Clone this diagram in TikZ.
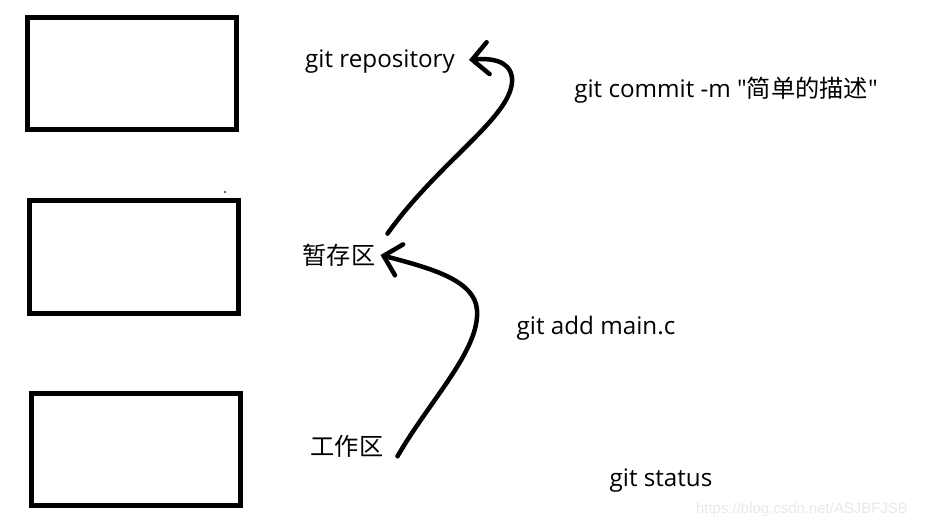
\documentclass[tikz,border=0pt]{standalone}
\usepackage{fontspec}
\setmainfont{Open Sans}[Ligatures=TeXOff]
\newfontfamily\cjk{Noto Sans CJK SC}
\newfontfamily\wmfont{Liberation Sans}
\usetikzlibrary{arrows.meta,positioning}

\begin{document}
\begin{tikzpicture}[x=1bp, y=-1bp,
    regionbox/.style={draw, line width=5bp, minimum width=209bp, minimum height=112bp},
    lbl/.style={font=\fontsize{24.3}{28}\selectfont, inner sep=0pt},
    handarrow/.style={line width=4.5bp, line cap=round,
        -{Straight Barb[length=16bp, width=32bp, line cap=round]}}]
    \useasboundingbox (0,0) rectangle (925,527);

    % The three regions
    \foreach \i/\x/\y in {1/132/73.5, 2/134/257, 3/136/449.5} {
        \node[regionbox] (box\i) at (\x,\y) {};
    }
    \fill (225,192) circle (1bp);

    % Region names
    \node[lbl] (repo) at (380,62) {git repository};
    \node[lbl] (stage) at (339,255) {\cjk 暂存区};
    \node[lbl] (work) at (347,446) {\cjk 工作区};

    % Commands
    \node[lbl] (commit) at (726,90) {git commit -m "{\cjk 简单的描述}"};
    \node[lbl] (add) at (596,328) {git add main.c};
    \node[lbl] (status) at (661,481) {git status};

    % Arrows between regions
    \draw[handarrow] ([xshift=12bp, yshift=10bp]stage.north east)
        .. controls (440,160) and (515,115) .. (512,78)
        .. controls (510,60) and (490,58) .. ([xshift=14bp, yshift=2bp]repo.east);
    \draw[handarrow] ([xshift=14bp, yshift=1bp]work.south east)
        .. controls (430,400) and (480,350) .. (477,310)
        .. controls (475,280) and (430,268) .. ([xshift=5bp]stage.east);

    % Watermark
    \node[font=\wmfont\fontsize{15}{17}\selectfont, text=gray!18, inner sep=0pt] (mark) at (802,510) {https://blog.csdn.net/ASJBFJSB};
\end{tikzpicture}
\end{document}
